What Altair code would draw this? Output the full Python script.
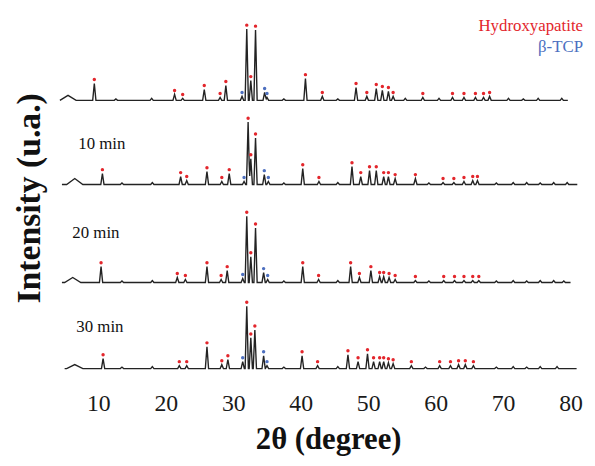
import altair as alt
import pandas as pd

# ---------------- data ----------------
trace_names = ["as-prepared", "10 min", "20 min", "30 min"]
offsets = [291, 206, 107, 20]          # vertical stacking offset of each pattern (a.u.)
trace_start = [4.3, 4.6, 4.6, 5.0]     # 2θ where each pattern starts
trace_end = [79.6, 81.0, 80.0, 80.9]   # 2θ where each pattern ends
hump_center = [5.5, 6.5, 6.2, 6.5]     # broad low-angle hump
hump_height = [5, 6, 5, 4]

# top pattern
pos_top = [9.4, 12.6, 17.9, 21.3, 22.5, 25.7, 28.05, 28.9, 31.3, 32.0, 32.6, 33.3,
           34.65, 35.0, 37.5, 40.7, 43.2, 45.5, 48.2, 49.8, 51.2, 52.1, 53.0, 53.7,
           55.5, 58.1, 60.5, 62.5, 64.2, 65.9, 67.1, 68.0, 70.8, 73.0, 75.2, 78.7]
int_top = [17, 1.5, 2, 6, 2, 11, 3, 15, 4, 72, 20, 71,
           8, 3, 1.5, 22, 4, 1.5, 13, 4, 12, 10, 9, 4,
           2, 3, 2, 3, 3, 3, 3, 4, 2, 1.5, 2, 2]
phase_top = ["HA", "-", "-", "HA", "HA", "HA", "HA", "HA", "TCP", "HA", "HA", "HA",
             "TCP", "TCP", "-", "HA", "HA", "-", "HA", "HA", "HA", "HA", "HA", "HA",
             "-", "HA", "-", "HA", "HA", "HA", "HA", "HA", "-", "-", "-", "-"]

# 10 min
pos_10 = [10.6, 13.5, 18.0, 22.2, 23.1, 26.1, 28.3, 29.4, 31.6, 32.2, 32.6, 33.3,
          34.6, 35.2, 37.5, 40.3, 42.7, 45.5, 47.6, 48.9, 50.2, 51.2, 52.3, 53.0,
          54.0, 57.0, 59.0, 61.1, 62.7, 64.2, 65.5, 66.2, 69.0, 71.5, 73.5, 75.5, 77.5, 79.5]
int_10 = [11, 1.5, 2, 8, 4, 13, 3, 11, 3, 63, 26, 47,
          10, 3, 1.5, 16, 3, 2, 18, 8, 14, 14, 8, 8,
          6, 6, 1.5, 2, 2, 3, 4, 4, 1.5, 2, 2, 1.5, 2, 2]
phase_10 = ["HA", "-", "-", "HA", "HA", "HA", "HA", "HA", "TCP", "HA", "HA", "HA",
            "TCP", "TCP", "-", "HA", "HA", "-", "HA", "HA", "HA", "HA", "HA", "HA",
            "HA", "HA", "-", "HA", "HA", "HA", "HA", "HA", "-", "-", "-", "-", "-", "-"]

# 20 min
pos_20 = [10.4, 13.5, 18.0, 21.7, 22.9, 26.1, 28.2, 29.1, 31.4, 32.0, 32.6, 33.3,
          34.5, 35.1, 37.5, 40.3, 42.65, 45.5, 47.4, 48.7, 50.4, 51.7, 52.3, 53.1,
          54.0, 57.0, 59.0, 61.2, 62.8, 64.2, 65.5, 66.4, 69.0, 71.5, 73.5, 75.5, 77.5, 79.0]
int_20 = [16, 1.5, 2, 5, 3, 16, 3, 12, 4, 67, 26, 55,
          10, 3, 1.5, 16, 3, 2, 16, 5, 12, 6, 6, 5,
          3, 2, 1.5, 2, 2, 2, 2, 2, 1.5, 2, 1.5, 2, 2, 1.5]
phase_20 = ["HA", "-", "-", "HA", "HA", "HA", "HA", "HA", "TCP", "HA", "HA", "HA",
            "TCP", "TCP", "-", "HA", "HA", "-", "HA", "HA", "HA", "HA", "HA", "HA",
            "HA", "HA", "-", "HA", "HA", "HA", "HA", "HA", "-", "-", "-", "-", "-", "-"]

# 30 min
pos_30 = [10.7, 13.5, 18.0, 22.0, 23.1, 26.1, 28.3, 29.2, 31.4, 32.0, 32.6, 33.2,
          34.5, 35.0, 37.5, 40.2, 42.5, 45.5, 47.0, 48.5, 49.9, 50.8, 51.7, 52.3,
          53.0, 53.7, 56.4, 58.5, 60.6, 62.2, 63.4, 64.4, 65.6, 69.0, 71.5, 73.5, 75.5, 78.0]
int_30 = [10, 1.5, 2, 3, 3, 22, 4, 9, 7, 63, 31, 39,
          13, 3, 1.5, 13, 3, 2, 14, 7, 15, 7, 7, 7,
          6, 5, 3, 1.5, 3, 3, 4, 4, 3, 1.5, 2, 1.5, 2, 2]
phase_30 = ["HA", "-", "-", "HA", "HA", "HA", "HA", "HA", "TCP", "HA", "HA", "HA",
            "TCP", "TCP", "-", "HA", "HA", "-", "HA", "HA", "HA", "HA", "HA", "HA",
            "HA", "HA", "HA", "-", "HA", "HA", "HA", "HA", "HA", "-", "-", "-", "-", "-"]

x_ticks = [10, 20, 30, 40, 50, 60, 70, 80]
legend_labels = ["Hydroxyapatite", "β-TCP"]
time_labels = ["10 min", "20 min", "30 min"]

# ---------------- build tables ----------------
PEAK_HW = 0.24
HUMP_HW = 1.2
DOT_GAP = 4

all_pos = [pos_top, pos_10, pos_20, pos_30]
all_int = [int_top, int_10, int_20, int_30]
all_phase = [phase_top, phase_10, phase_20, phase_30]

line_rows = []
dot_rows = []
for i, name in enumerate(trace_names):
    off = offsets[i]
    peaks = [(p, h, PEAK_HW) for p, h in zip(all_pos[i], all_int[i])]
    peaks.append((hump_center[i], hump_height[i], HUMP_HW))
    xs = {trace_start[i], trace_end[i]}
    for p, h, w in peaks:
        xs.update([p - w, p, p + w])
    xs = sorted(x for x in xs if trace_start[i] <= x <= trace_end[i])
    for x in xs:
        y = 0.0
        for p, h, w in peaks:
            y = max(y, h * (1 - abs(x - p) / w))
        line_rows.append({"trace": name, "two_theta": x, "intensity": off + y})
    for p, h, ph in zip(all_pos[i], all_int[i], all_phase[i]):
        if ph != "-":
            dot_rows.append({"trace": name, "two_theta": p,
                             "intensity": off + h + DOT_GAP,
                             "phase": legend_labels[0] if ph == "HA" else legend_labels[1]})

lines_df = pd.DataFrame(line_rows)
dots_df = pd.DataFrame(dot_rows)

RED = "#e3262c"
BLUE = "#4d6fbf"
SERIF = "Liberation Serif"

xscale = alt.Scale(domain=[3.5, 82], nice=False, zero=False)
yscale = alt.Scale(domain=[0, 380], nice=False, zero=False)

lines = alt.Chart(lines_df).mark_line(color="#232323", strokeWidth=1.4).encode(
    x=alt.X("two_theta:Q", scale=xscale,
            axis=alt.Axis(values=x_ticks, domain=False, ticks=False, grid=False,
                          labelFont=SERIF, labelFontSize=24, labelColor="#1a1a1a",
                          labelPadding=3, title=None)),
    y=alt.Y("intensity:Q", scale=yscale, axis=None),
    detail="trace:N",
    order="two_theta:Q",
)

dots = alt.Chart(dots_df).mark_circle(size=12, opacity=1).encode(
    x=alt.X("two_theta:Q", scale=xscale),
    y=alt.Y("intensity:Q", scale=yscale),
    color=alt.Color("phase:N", scale=alt.Scale(domain=legend_labels, range=[RED, BLUE]),
                    legend=None),
)

def label(text, x, y, size, color="#111111", align="left", bold=False, angle=0):
    mk = dict(text=text, font=SERIF, fontSize=size, color=color, align=align,
              baseline="middle", fontWeight="bold" if bold else "normal")
    if angle:
        mk["angle"] = angle
    return alt.Chart(pd.DataFrame({"a": [0]})).mark_text(**mk).encode(
        x=alt.value(x), y=alt.value(y))

layers = [
    lines, dots,
    label(legend_labels[0], 534, 14, 17, RED, align="right"),
    label(legend_labels[1], 534, 35, 17, BLUE, align="right"),
    label(time_labels[0], 24, 133, 17),
    label(time_labels[1], 18, 223, 17),
    label(time_labels[2], 22, 318, 17),
    label("2θ (degree)", 277, 432, 31, align="center", bold=True),
    label("Intensity (u.a.)", -25, 188, 34, align="center", bold=True, angle=270),
]

chart = alt.layer(*layers).properties(
    width=535, height=380,
    autosize=alt.AutoSizeParams(type="none"),
    padding={"left": 47, "top": 2, "right": 3, "bottom": 66},
).configure_view(strokeWidth=0).configure_axis(
    labelFont=SERIF
).configure_text(font=SERIF)

chart.save("out.html", embed_options={"renderer": "svg", "actions": False})
